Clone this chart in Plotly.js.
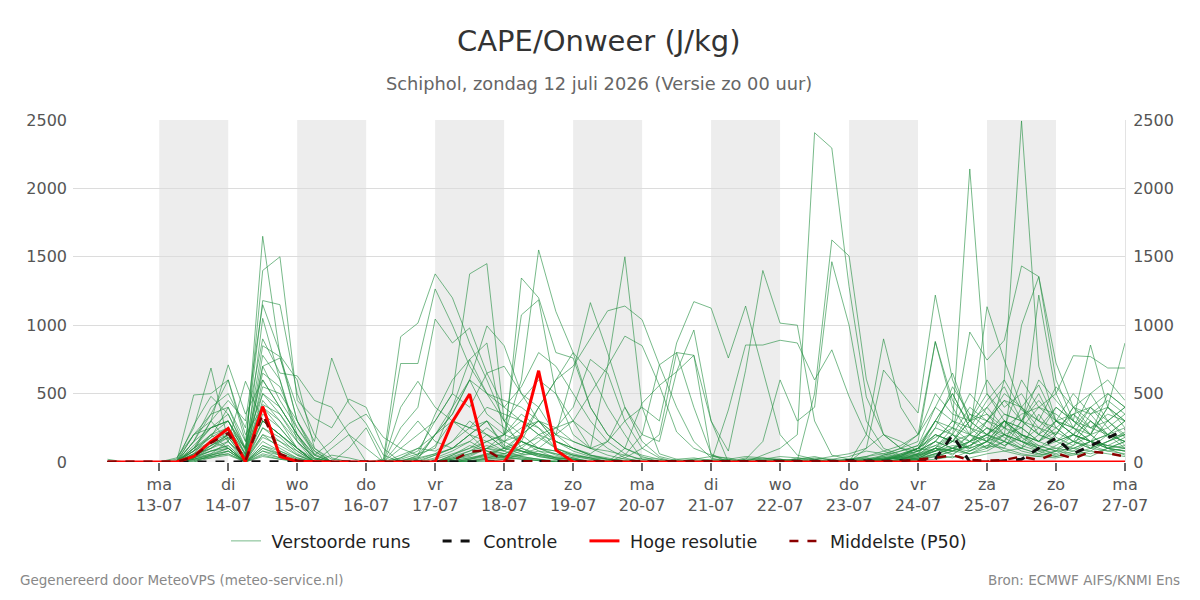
<!DOCTYPE html>
<html>
<head>
<meta charset="utf-8">
<script src="https://cdn.plot.ly/plotly-3.0.1.min.js"></script>
<style>html,body{margin:0;padding:0;background:#fff;}#chart{width:1200px;height:600px;}</style>
</head>
<body>
<div id="chart"></div>
<script>
// ---- Data (6-hourly steps, 12-07 06:00 .. 27-07 00:00) ----
const startTime = Date.UTC(2026, 6, 12, 6, 0);
const stepHours = 6;
const nSteps = 60;

const dayTickDates = ['2026-07-13','2026-07-14','2026-07-15','2026-07-16','2026-07-17','2026-07-18','2026-07-19','2026-07-20','2026-07-21','2026-07-22','2026-07-23','2026-07-24','2026-07-25','2026-07-26','2026-07-27'];
const dayTickNames = ['ma','di','wo','do','vr','za','zo','ma','di','wo','do','vr','za','zo','ma'];
const dayTickLabels = ['13-07','14-07','15-07','16-07','17-07','18-07','19-07','20-07','21-07','22-07','23-07','24-07','25-07','26-07','27-07'];
const shadedDays = [['2026-07-13','2026-07-14'],['2026-07-15','2026-07-16'],['2026-07-17','2026-07-18'],['2026-07-19','2026-07-20'],['2026-07-21','2026-07-22'],['2026-07-23','2026-07-24'],['2026-07-25','2026-07-26']];
const seriesNames = ['Verstoorde runs', 'Controle', 'Hoge resolutie', 'Middelste (P50)'];

const controle = [0,0,0, 0,0,0,0, 0,0,0,0, 0,0,0,0, 0,0,0,0, 0,0,0,0, 0,0,0,0, 0,0,0,0, 0,0,0,0, 0,0,0,0, 0,0,5,5, 10,5,5,10, 5,20,197,0, 0,10,20,100, 175,60,120,175, 235];
const hogeResolutie = [0,0,0, 0,0,40,150, 245,0,405,40, 5,0,0,0, 0,0,0,0, 0,295,497,0, 0,190,667,88, 0,0,0,0, 0,0,0,0, 0,0,0,0, 0,0,0,0, 0,0,0,0, 0,0,0,0, 0,0,0,0, 0,0,0,0, 0];
const middelste = [0,0,0, 0,0,40,140, 210,10,350,60, 10,0,0,0, 0,0,0,0, 0,10,75,85, 10,5,5,0, 0,0,0,0, 0,0,0,0, 0,0,0,0, 0,0,0,0, 0,0,0,5, 20,30,50,15, 10,15,40,15, 65,25,75,65, 40];

const run01 = [0,0,0, 0,0,100,250, 300,60,1650,780, 600,100,20,0, 0,0,10,40, 120,300,200,80, 30,150,400,200, 660,1165,800,400, 150,40,10,20, 0,0,30,20, 10,0,0,0, 10,30,20,40, 100,300,500,250, 450,600,380,300, 250,350,200,400, 300];
const run02 = [0,0,0, 0,0,50,150, 250,100,1400,1500, 450,320,250,460, 400,100,0,0, 0,20,60,100, 200,350,250,100, 50,30,20,10, 0,0,0,10, 20,10,0,0, 0,10,30,20, 0,0,10,50, 100,300,200,80, 150,100,300,500, 250,150,350,400, 300];
const run03 = [0,0,0, 0,30,200,350, 400,150,1180,1150, 500,200,30,0, 0,0,250,400, 1045,870,980,650, 400,300,200,100, 50,20,10,0, 0,0,10,0, 0,20,40,30, 10,0,0,10, 20,40,60,100, 200,880,450,300, 600,400,500,300, 200,400,500,300, 400];
const run04 = [0,0,0, 0,0,80,300, 450,300,1150,800, 300,80,0,0, 0,0,0,20, 200,350,600,995, 850,500,300,150, 80,40,20,10, 30,20,0,0, 0,0,10,20, 40,30,10,0, 0,20,50,80, 120,400,650,300, 500,350,300,600, 450,300,250,350, 300];
const run05 = [0,0,0, 0,0,150,400, 500,250,900,650, 630,450,400,200, 0,0,50,100, 80,150,300,200, 100,60,150,250, 300,100,700,1500, 400,60,20,0, 0,0,0,10, 20,10,0,0, 0,10,30,60, 100,80,200,400, 300,200,150,100, 200,350,250,300, 400];
const run06 = [0,0,0, 0,0,270,480, 350,100,850,770, 300,100,0,100, 250,0,150,300, 150,100,200,300, 120,80,40,20, 10,0,0,0, 0,0,20,30, 10,0,0,0, 0,0,20,40, 60,100,200,150, 80,300,500,250, 150,300,200,120, 80,150,200,100, 150];
const run07 = [0,0,0, 0,0,60,200, 300,50,780,600, 200,30,0,0, 0,0,20,60, 100,400,750,870, 200,1075,1185,500, 200,100,50,20, 0,0,0,0, 10,20,0,0, 0,20,40,10, 0,0,10,30, 80,150,100,200, 400,250,150,100, 50,100,150,300, 180];
const run08 = [20,0,0, 0,20,250,687, 150,590,300,200, 100,0,0,0, 0,0,0,30, 60,100,150,80, 40,100,200,150, 100,50,30,0, 0,10,0,0, 0,0,0,0, 0,0,10,20, 40,80,60,30, 20,100,50,150, 250,180,100,60, 120,200,100,80, 60];
const run09 = [0,0,0, 0,0,100,300, 710,350,600,400, 200,50,0,0, 0,0,100,200, 300,500,1375,1450, 300,100,60,30, 20,10,0,0, 0,0,0,0, 0,0,20,10, 0,0,0,0, 10,20,40,20, 60,120,80,200, 1135,745,400,200, 150,100,80,150, 220];
const run10 = [0,0,0, 0,0,490,500, 600,200,400,300, 100,0,0,0, 0,0,0,0, 20,60,100,150, 80,200,400,600, 700,900,1105,1140, 1040,710,400,150, 30,0,0,0, 0,0,0,10, 20,30,0,20, 50,100,250,200, 150,80,100,200, 300,250,150,100, 80];
const run11 = [0,0,0, 0,0,30,100, 200,20,700,760, 400,150,760,430, 280,50,0,0, 0,0,20,50, 100,150,80,30, 10,0,0,0, 0,0,0,0, 0,0,0,0, 10,20,0,0, 0,0,0,20, 60,200,150,100, 300,500,400,250, 200,400,250,200, 300];
const run12 = [0,0,0, 0,0,120,250, 350,80,550,500, 300,50,150,280, 350,180,100,50, 200,400,600,350, 250,150,100,200, 300,500,700,920, 850,560,220,100, 50,20,0,0, 0,0,0,0, 0,10,20,40, 20,60,30,80, 120,100,60,40, 80,60,40,100, 50];
const run13 = [0,0,0, 0,0,200,300, 150,30,450,300, 150,0,0,0, 0,0,0,0, 50,100,200,300, 100,1345,1200,800, 760,400,200,100, 50,20,0,0, 0,0,0,0, 0,0,0,0, 0,20,10,0, 30,80,150,300, 200,120,180,1220, 500,250,150,120, 100];
const run14 = [0,0,0, 0,0,50,100, 180,10,350,250, 100,0,0,0, 0,0,0,0, 0,50,100,200, 150,250,300,200, 150,100,150,300, 400,300,870,1172, 1125,760,1140,680, 200,50,20,0, 0,0,0,10, 20,40,80,150, 100,200,150,80, 40,60,100,150, 200];
const run15 = [0,0,0, 0,0,30,80, 120,0,250,150, 50,0,0,0, 0,0,0,0, 0,30,80,150, 200,300,250,150, 100,60,150,400, 200,150,660,965, 300,80,670,1400, 1015,1000,300,50, 20,10,0,0, 30,60,100,80, 150,250,200,100, 60,120,200,100, 80];
const run16 = [0,0,0, 0,0,0,50, 100,0,200,100, 30,0,0,0, 0,0,0,0, 0,0,20,60, 100,80,50,30, 20,0,0,30, 100,200,800,780, 50,0,0,0, 0,10,500,1623, 1506,606,200,100, 50,150,300,200, 100,300,250,400, 300,200,150,200, 300];
const run17 = [0,0,0, 0,0,100,200, 250,50,300,200, 80,0,100,200, 100,0,400,590, 400,300,250,200, 100,200,300,250, 150,100,80,50, 20,0,0,0, 0,0,0,0, 0,0,0,0, 10,0,20,50, 100,200,150,350, 250,150,300,200, 400,300,200,250, 350];
const run18 = [0,0,0, 0,0,150,350, 600,150,500,400, 200,0,50,30, 0,0,720,720, 1265,1000,700,500, 450,400,300,200, 100,50,20,0, 0,0,0,0, 0,0,0,10, 20,0,0,0, 0,10,30,20, 40,100,60,120, 200,150,100,350, 180,120,300,200, 150];
const run19 = [0,0,0, 0,0,0,30, 80,0,150,80, 20,0,0,0, 0,0,0,0, 0,0,0,30, 60,100,50,20, 0,0,0,0, 0,0,0,0, 0,380,855,855, 890,870,600,820, 478,200,80,40, 100,200,150,300, 350,200,150,120, 80,200,400,250, 120];
const run20 = [0,0,0, 0,0,20,60, 150,0,100,50, 0,0,0,0, 0,0,0,0, 0,20,50,100, 80,40,20,0, 0,0,10,0, 0,0,0,0, 0,0,20,150, 600,300,400,1464, 1000,300,100,50, 100,250,200,150, 300,450,300,200, 150,250,200,400, 250];
const run21 = [0,0,0, 0,0,80,180, 400,100,650,550, 250,80,0,0, 0,20,916,1015, 1375,1200,870,600, 300,200,100,50, 20,0,0,0, 0,0,0,0, 0,0,0,0, 0,0,0,0, 10,0,20,40, 80,150,100,60, 120,200,250,150, 100,80,150,200, 100];
const run22 = [0,0,0, 0,0,10,40, 60,0,80,30, 0,0,0,0, 0,0,0,0, 0,0,10,30, 50,30,10,0, 0,0,0,0, 0,0,0,0, 0,0,0,50, 100,200,2407,2295, 1282,475,200,100, 80,150,300,250, 200,150,400,563, 300,200,150,100, 150];
const run23 = [0,0,0, 0,0,40,120, 200,30,1050,600, 150,30,0,0, 0,0,0,10, 50,100,200,150, 200,600,1550,1100, 800,400,200,100, 40,0,0,0, 0,0,0,0, 0,0,0,0, 0,10,20,30, 50,80,120,100, 150,300,200,150, 250,150,100,150, 200];
const run24 = [0,0,0, 0,0,200,250, 300,90,420,350, 180,20,0,0, 0,0,30,100, 200,300,250,400, 350,300,200,250, 400,750,650,300, 100,30,0,0, 0,0,0,0, 0,0,0,0, 0,0,0,20, 40,100,200,950, 745,890,1433,1355, 724,400,300,200, 150];
const run25 = [0,0,0, 0,0,60,150, 100,0,120,60, 10,0,0,0, 0,0,0,0, 0,0,0,0, 20,50,80,60, 30,0,0,0, 0,0,0,0, 0,0,0,0, 0,0,0,0, 0,200,900,400, 200,400,300,2142, 500,300,200,150, 300,250,400,300, 200];
const run26 = [0,0,0, 0,0,20,50, 80,0,80,50, 0,0,0,0, 0,0,0,0, 0,0,0,20, 40,60,100,80, 50,30,0,0, 0,0,0,0, 0,0,0,0, 0,0,0,0, 0,100,672,514, 358,1220,600,300, 200,300,250,150, 300,500,350,200, 250];
const run27 = [0,0,0, 0,0,30,60, 100,0,60,30, 0,0,0,0, 0,0,0,0, 0,10,30,60, 40,20,10,0, 0,0,0,0, 0,0,0,0, 0,0,0,0, 0,0,0,0, 0,0,50,100, 150,880,400,200, 150,600,2493,700, 300,200,150,100, 120];
const run28 = [0,0,0, 0,0,50,100, 150,20,200,150, 80,0,0,0, 0,0,0,0, 0,30,60,100, 150,200,300,150, 100,50,20,0, 0,0,0,0, 0,0,0,0, 0,0,0,0, 0,0,0,0, 20,50,100,150, 250,200,1000,1355, 600,300,855,400, 870];
const run29 = [0,0,0, 0,0,30,80, 100,0,100,60, 20,0,0,0, 0,0,0,0, 0,0,10,20, 30,50,60,40, 20,0,0,0, 0,0,0,0, 0,0,0,0, 0,0,0,0, 0,0,0,10, 30,80,150,200, 300,250,350,400, 500,777,770,687, 687];
const run30 = [0,0,0, 0,0,10,40, 60,0,50,20, 0,0,0,0, 0,0,0,0, 0,0,0,10, 20,30,20,10, 0,0,0,0, 0,0,0,0, 0,0,0,0, 0,0,0,0, 0,0,0,0, 10,40,80,120, 200,300,150,250, 400,300,200,500, 400];
const run31 = [0,0,0, 0,0,40,80, 120,10,180,120, 50,0,0,0, 0,0,10,30, 200,350,600,500, 400,550,800,700, 500,300,150,60, 10,0,0,0, 0,0,10,30, 20,10,0,0, 0,10,30,50, 80,120,200,100, 150,200,120,80, 100,150,120,80, 100];
const run32 = [0,0,0, 0,10,80,150, 200,40,300,200, 100,20,0,0, 0,0,30,80, 300,500,400,650, 700,500,400,600, 800,650,400,200, 20,10,0,0, 0,0,0,0, 0,30,20,0, 0,0,20,60, 100,180,250,150, 200,350,300,250, 150,200,300,180, 200];
const run33 = [0,0,0, 0,0,20,30, 50,0,40,20, 10,0,0,0, 0,0,0,0, 0,0,20,40, 30,20,10,0, 0,0,0,0, 0,0,0,0, 0,0,0,0, 0,0,0,0, 0,0,0,0, 10,20,40,30, 60,80,50,40, 30,50,80,60, 40];
const run34 = [0,0,0, 0,0,100,180, 250,60,400,250, 100,0,0,0, 0,0,0,50, 350,600,750,500, 300,450,600,500, 300,200,100,30, 0,0,0,20, 40,30,0,0, 0,0,0,0, 20,40,80,120, 200,500,350,300, 400,550,300,450, 300,350,400,500, 400];
const run35 = [0,0,0, 0,0,60,120, 180,20,250,180, 60,0,0,0, 0,0,0,0, 0,50,120,80, 60,120,180,100, 60,30,0,100, 430,560,660,780, 300,0,0,0, 0,0,0,0, 0,0,10,40, 60,100,80,120, 180,120,200,150, 220,150,100,200, 150];
const run36 = [0,0,0, 0,0,30,120, 200,40,500,350, 150,30,0,0, 0,0,0,0, 30,80,150,250, 150,80,40,20, 0,0,0,50, 200,710,800,400, 60,0,0,0, 0,0,0,0, 0,0,0,0, 40,80,100,60, 80,150,100,60, 40,80,60,100, 80];
const run37 = [0,0,0, 0,0,150,250, 300,100,700,450, 250,60,0,0, 0,0,0,0, 0,20,40,100, 60,40,20,0, 0,0,0,0, 0,0,0,0, 0,0,0,0, 0,0,0,0, 0,10,40,80, 120,300,250,500, 350,250,600,400, 350,250,500,600, 450];
const run38 = [0,0,0, 0,0,80,200, 100,0,300,200, 100,0,0,0, 0,0,0,0, 0,40,80,120, 80,150,100,60, 30,0,0,0, 0,0,0,0, 0,0,0,0, 0,0,0,0, 0,0,0,0, 20,60,100,150, 200,300,180,100, 150,200,150,120, 180];
const run39 = [0,0,0, 0,0,50,150, 220,30,600,400, 200,50,0,0, 0,0,0,20, 60,150,250,300, 200,150,100,80, 40,20,0,0, 0,0,0,0, 0,0,0,0, 0,0,0,0, 0,0,20,30, 60,250,550,350, 300,450,400,300, 550,400,350,450, 350];
const run40 = [0,0,0, 0,0,20,50, 80,0,120,80, 30,0,0,0, 0,0,0,0, 0,10,30,50, 40,80,60,30, 20,0,0,0, 0,0,0,0, 0,0,0,0, 0,0,0,0, 0,0,0,20, 50,100,80,60, 100,150,80,50, 80,100,150,120, 100];

const ensembleRuns = [run01,run02,run03,run04,run05,run06,run07,run08,run09,run10,run11,run12,run13,run14,run15,run16,run17,run18,run19,run20,run21,run22,run23,run24,run25,run26,run27,run28,run29,run30,run31,run32,run33,run34,run35,run36,run37,run38,run39,run40];

// ---- Time grid ----
function fmt(ms){
  const d = new Date(ms);
  const p = n => String(n).padStart(2,'0');
  return d.getUTCFullYear()+'-'+p(d.getUTCMonth()+1)+'-'+p(d.getUTCDate())+' '+p(d.getUTCHours())+':'+p(d.getUTCMinutes());
}
const times = [];
for (let i = 0; i < nSteps; i++) times.push(fmt(startTime + i*stepHours*3600000));

// legend label padding (spacing like the original legend)
const NB = '\u00a0';
function legendLabel(name, last){ return NB + name + (last ? '' : NB + NB + NB + NB); }

// ---- Traces ----
const traces = [];
ensembleRuns.forEach((r, k) => {
  traces.push({
    x: times, y: r, type: 'scatter', mode: 'lines',
    line: {color: 'rgba(30,140,60,0.6)', width: 1},
    name: legendLabel(seriesNames[0]), legendgroup: 'ens', showlegend: k === 0,
    hoverinfo: 'skip'
  });
});
traces.push({x: times, y: controle, type: 'scatter', mode: 'lines', name: legendLabel(seriesNames[1]),
  line: {color: '#111', width: 3, dash: 'dash'}});
traces.push({x: times, y: hogeResolutie, type: 'scatter', mode: 'lines', name: legendLabel(seriesNames[2]),
  line: {color: '#ff0000', width: 3}});
traces.push({x: times, y: middelste, type: 'scatter', mode: 'lines', name: legendLabel(seriesNames[3], true),
  line: {color: '#8b0000', width: 2.5, dash: 'dash'}});
traces.push({x: [times[0]], y: [0], yaxis: 'y2', mode: 'markers', marker: {opacity: 0}, showlegend: false, hoverinfo: 'skip'});

const shapes = shadedDays.map(d => ({
  type: 'rect', xref: 'x', yref: 'paper', x0: d[0], x1: d[1], y0: 0, y1: 1,
  fillcolor: '#ededed', line: {width: 0}, layer: 'between'
}));

const tickText = dayTickNames.map((n, i) => n + '<br>' + dayTickLabels[i]);
const font = '"DejaVu Sans", Verdana, sans-serif';

const layout = {
  width: 1200, height: 600,
  margin: {l: 73, r: 75, t: 120, b: 138},
  paper_bgcolor: '#fff', plot_bgcolor: '#fff',
  font: {family: font, color: '#555'},
  showlegend: true,
  legend: {orientation: 'h', x: 0.5, xanchor: 'center', y: -0.231, yanchor: 'middle',
    font: {size: 17.5, color: '#222'}},
  xaxis: {
    type: 'date', range: ['2026-07-11 18:00', '2026-07-27 00:00'],
    tickvals: dayTickDates, ticktext: tickText,
    ticks: 'outside', ticklen: 8, tickwidth: 2, tickcolor: '#666',
    showgrid: false, zeroline: false, showline: false,
    tickfont: {size: 16, color: '#555'}
  },
  yaxis: {
    range: [0, 2500], tickvals: [0,500,1000,1500,2000,2500],
    showgrid: true, gridcolor: '#dcdcdc', gridwidth: 1, zeroline: false,
    ticks: '', ticklabelstandoff: 5, tickfont: {size: 16, color: '#555'}, showline: false
  },
  yaxis2: {
    overlaying: 'y', side: 'right', range: [0, 2500], tickvals: [0,500,1000,1500,2000,2500],
    showgrid: false, zeroline: false, showline: true, linecolor: '#e3e3e3', linewidth: 1,
    ticks: '', ticklabelstandoff: 4, tickfont: {size: 16, color: '#555'}
  },
  shapes: shapes,
  annotations: [
    {text: 'CAPE/Onweer (J/kg)', xref: 'paper', yref: 'paper', x: 0.5, y: 1.231, xanchor: 'center', yanchor: 'middle',
      showarrow: false, font: {size: 29, color: '#333'}},
    {text: 'Schiphol, zondag 12 juli 2026 (Versie zo 00 uur)', xref: 'paper', yref: 'paper', x: 0.5, y: 1.108, xanchor: 'center', yanchor: 'middle',
      showarrow: false, font: {size: 17.8, color: '#666'}},
    {text: 'Gegenereerd door MeteoVPS (meteo-service.nl)', xref: 'paper', yref: 'paper', x: -0.0523, y: -0.345, xanchor: 'left', yanchor: 'middle',
      showarrow: false, font: {size: 13.5, color: '#888'}},
    {text: 'Bron: ECMWF AIFS/KNMI Ens', xref: 'paper', yref: 'paper', x: 1.0542, y: -0.345, xanchor: 'right', yanchor: 'middle',
      showarrow: false, font: {size: 13.5, color: '#888'}}
  ]
};

Plotly.newPlot('chart', traces, layout, {displayModeBar: false, staticPlot: true});
</script>
</body>
</html>
